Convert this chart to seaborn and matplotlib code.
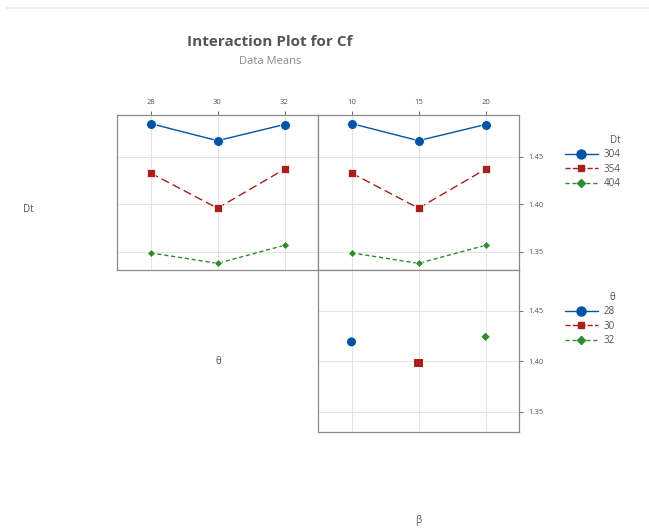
import numpy as np
import pandas as pd
import matplotlib
matplotlib.use("Agg")
import matplotlib.pyplot as plt
import seaborn as sns
from matplotlib.lines import Line2D

sns.set_theme(style="white")
plt.rcParams['font.family'] = ['Open Sans', 'DejaVu Sans']

# ---- data ----
theta_levels = [28, 30, 32]
beta_levels = [10, 15, 20]
dt_levels = [304, 354, 404]
# Cf means, Dt x theta
cf_dt_theta = {304: [1.485, 1.467, 1.484],
               354: [1.433, 1.396, 1.437],
               404: [1.349, 1.338, 1.357]}
# Cf means, Dt x beta
cf_dt_beta = {304: [1.485, 1.467, 1.484],
              354: [1.433, 1.396, 1.437],
              404: [1.349, 1.338, 1.357]}
# Cf means, theta x beta (only observed combos)
theta_beta_theta = [28, 30, 32]
theta_beta_beta = [10, 15, 20]
theta_beta_cf = [1.419, 1.398, 1.424]
y_ticks = [1.35, 1.40, 1.45]
y_tick_labels = ["1.35", "1.40", "1.45"]

colors = ["#0054A6", "#A8201A", "#2E8B2E"]
markers = ["o", "s", "D"]
msizes = [7, 6, 4.5]
leg_msizes = [6.5, 5, 4]
dash_styles = ["", (6, 3), (3, 2)]

df1 = pd.DataFrame([(dt, t, v) for dt in dt_levels for t, v in zip(theta_levels, cf_dt_theta[dt])],
                   columns=["Dt", "theta", "Cf"])
df2 = pd.DataFrame([(dt, b, v) for dt in dt_levels for b, v in zip(beta_levels, cf_dt_beta[dt])],
                   columns=["Dt", "beta", "Cf"])
df3 = pd.DataFrame({"theta": theta_beta_theta, "beta": theta_beta_beta, "Cf": theta_beta_cf})

W, H = 649, 531
fig = plt.figure(figsize=(W / 100, H / 100), dpi=100)

def fr(x0, y0, x1, y1):
    return [x0 / W, 1 - y1 / H, (x1 - x0) / W, (y1 - y0) / H]

ax1 = fig.add_axes(fr(117, 115, 318, 270))
ax2 = fig.add_axes(fr(318, 115, 519, 270))
ax3 = fig.add_axes(fr(318, 270, 519, 432))

pal = {lvl: c for lvl, c in zip(dt_levels, colors)}
mk = {lvl: m for lvl, m in zip(dt_levels, markers)}
ds = {lvl: d for lvl, d in zip(dt_levels, dash_styles)}

for ax, df, xcol in [(ax1, df1, "theta"), (ax2, df2, "beta")]:
    sns.lineplot(data=df, x=xcol, y="Cf", hue="Dt", style="Dt", palette=pal,
                 markers=mk, dashes=ds, markersize=6, linewidth=1.0,
                 markeredgewidth=0.5, legend=False, ax=ax)
    for line, s in zip(ax.lines, msizes):
        line.set_markersize(s)

pal3 = {lvl: c for lvl, c in zip(theta_levels, colors)}
mk3 = {lvl: m for lvl, m in zip(theta_levels, markers)}
sz3 = {28: 42, 30: 34, 32: 18}
sns.scatterplot(data=df3, x="beta", y="Cf", hue="theta", style="theta", size="theta",
                palette=pal3, markers=mk3, sizes=sz3, edgecolor="none", legend=False, ax=ax3)

ax1.set_xlim(27, 33)
ax2.set_xlim(7.5, 22.5)
ax3.set_xlim(7.5, 22.5)
for ax in (ax1, ax2):
    ax.set_ylim(1.331, 1.494)
ax3.set_ylim(1.33, 1.49)

for ax in (ax1, ax2, ax3):
    ax.set_xlabel("")
    ax.set_ylabel("")
    ax.set_yticks(y_ticks)
    ax.grid(True, color="#e4e4e4", linewidth=0.7)
    ax.set_axisbelow(True)
    for sp in ax.spines.values():
        sp.set_color("#8a8a8a")
        sp.set_linewidth(0.9)
    ax.tick_params(axis="both", labelsize=5.5, colors="#555555", length=3, width=0.6,
                   direction="out")

ax1.set_xticks(theta_levels)
ax2.set_xticks(beta_levels)
ax3.set_xticks(beta_levels)
for ax in (ax1, ax2):
    ax.xaxis.tick_top()
    ax.tick_params(axis="x", top=True, bottom=False, labeltop=True, labelbottom=False)
ax3.tick_params(axis="x", bottom=False, labelbottom=False, top=False)

ax1.tick_params(axis="y", left=False, labelleft=False, right=False)
ax1.set_yticklabels([])
for ax in (ax2, ax3):
    ax.yaxis.tick_right()
    ax.set_yticklabels(y_tick_labels)
    ax.tick_params(axis="y", right=True, labelright=True, left=False, labelleft=False)

# legends
def leg_handles():
    return [Line2D([0], [0], color=c, marker=m, linestyle="-" if i == 0 else ("--" if i == 1 else (0, (3, 2))),
                   markersize=s, linewidth=1.0)
            for i, (c, m, s) in enumerate(zip(colors, markers, leg_msizes))]

leg1 = fig.legend(leg_handles(), [str(v) for v in dt_levels], title="Dt",
                  loc="upper left", bbox_to_anchor=(556 / W, 1 - 126 / H), frameon=False,
                  fontsize=7, title_fontsize=7, handlelength=3.4, handletextpad=0.6,
                  labelspacing=0.35, alignment="right")
leg2 = fig.legend(leg_handles(), [str(v) for v in theta_levels], title="θ",
                  loc="upper left", bbox_to_anchor=(556 / W, 1 - 283 / H), frameon=False,
                  fontsize=7, title_fontsize=7, handlelength=3.4, handletextpad=0.6,
                  labelspacing=0.35, alignment="right")
for leg in (leg1, leg2):
    for t in leg.get_texts():
        t.set_color("#555555")
    leg.get_title().set_color("#555555")

# faint top border line of the screenshot
fig.add_artist(Line2D([6 / W, 1.0], [1 - 8 / H, 1 - 8 / H], transform=fig.transFigure,
                      color="#e6e6e6", linewidth=1.2))

fig.text(270 / W, 1 - 42 / H, "Interaction Plot for Cf", ha="center", va="center",
         fontsize=11, fontweight="bold", color="#555555")
fig.text(270 / W, 1 - 62 / H, "Data Means", ha="center", va="center",
         fontsize=8, color="#8a8a8a")
fig.text(28 / W, 1 - 210 / H, "Dt", ha="center", va="center", fontsize=7, color="#555555")
fig.text(218 / W, 1 - 362 / H, "θ", ha="center", va="center", fontsize=7, color="#555555")
fig.text(418 / W, 1 - 521 / H, "β", ha="center", va="center", fontsize=7, color="#555555")

fig.savefig("out.png", dpi=100)
